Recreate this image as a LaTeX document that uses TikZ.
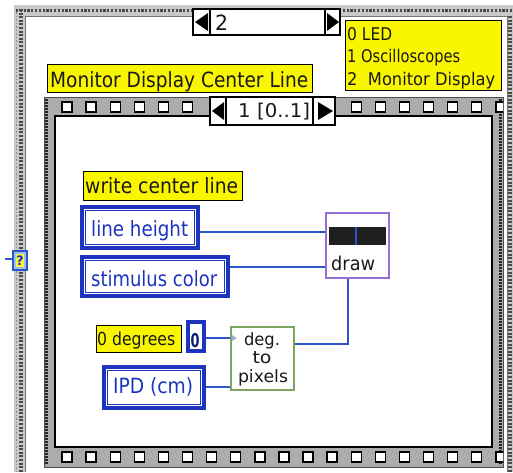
\documentclass[tikz,border=0pt]{standalone}
\usepackage{fontspec}
\setmainfont{DejaVu Sans}
\usepackage{graphicx}
\usetikzlibrary{fit,calc}

\definecolor{lvyellow}{RGB}{250,246,0}
\definecolor{ctlblue}{RGB}{28,52,190}
\definecolor{wireblue}{RGB}{45,85,205}
\definecolor{drawpurple}{RGB}{150,110,215}
\definecolor{subgreen}{RGB}{125,165,95}
\definecolor{framegray}{RGB}{172,172,172}
\definecolor{stipple}{RGB}{200,200,200}
\definecolor{txtdark}{RGB}{25,25,25}
\definecolor{helpblue}{RGB}{160,190,240}

% set a text horizontally squeezed/stretched to a given width (in pt)
\newsavebox\fitbox
\newlength\fitlen
\newcommand\fitto[2]{\sbox\fitbox{#2}\setlength\fitlen{\wd\fitbox}%
  \pgfmathsetmacro\fitr{#1/\fitlen}\scalebox{\fitr}[1]{\usebox\fitbox}}

\tikzset{
  yellowbox/.style={draw=black, line width=0.9, fill=lvyellow, inner sep=0},
  ctl/.style={draw=ctlblue, line width=4, fill=white, inner sep=0},
  ctlinner/.style={draw=ctlblue, line width=1.5},
  txt/.style={inner sep=0, text=txtdark, font=\fontsize{21}{24}\selectfont},
  ctltxt/.style={inner sep=0, text=ctlblue, font=\fontsize{21}{24}\selectfont},
  wire/.style={draw=wireblue, line width=1.8},
  selbox/.style={draw=black, line width=1.2, fill=white, inner sep=0},
  arrowtip/.style={fill=black},
  filmsq/.style={draw=black, line width=1.4, fill=white},
  subtxt/.style={inner sep=0, text=txtdark, font=\fontsize{17}{19}\selectfont, anchor=base},
}

\begin{document}
\begin{tikzpicture}[x=1pt, y=-1pt]
\useasboundingbox (0,0) rectangle (513,472);
\fill[white] (0,0) rectangle (513,472);

% ---------- outer case structure frame ----------
\fill[stipple] (14,5) rectangle (25,472);
\fill[stipple] (14,5) rectangle (513,16);
\fill[stipple] (507,16) rectangle (513,472);
\draw[black!70, line width=3.2, dash pattern=on 2pt off 1.6pt] (21,9) -- (21,472);
\draw[black!45, line width=1.4, dash pattern=on 1.5pt off 2pt] (16.5,12) -- (16.5,472);
\draw[black!70, line width=3.4, dash pattern=on 2.2pt off 1.6pt] (16,10.5) -- (513,10.5);
\draw[black!70, line width=3.2, dash pattern=on 2pt off 1.6pt] (510,16) -- (510,472);
\draw[black!55, line width=0.8] (25,472) -- (25,16) -- (507,16) -- (507,472);

% ---------- outer selector ----------
\node[selbox, fit={(193,9) (340,35)}] (sel) {};
\draw[black, line width=1.2] (210,9) -- (210,35) (325,9) -- (325,35);
\fill[arrowtip] (195,22) -- (208,13) -- (208,31) -- cycle;
\fill[arrowtip] (339,22) -- (327,13) -- (327,31) -- cycle;
\node[txt, anchor=base west] (selT) at (215,30) {\fitto{13}{2}};

% ---------- legend ----------
\node[yellowbox, fit={(345,20) (501,90)}] (legend) {};
\node[txt, font=\fontsize{17.5}{20}\selectfont, anchor=base west] (lg0) at (347,40) {\fitto{45}{0 LED}};
\node[txt, font=\fontsize{17.5}{20}\selectfont, anchor=base west] (lg1) at (347,62) {\fitto{113}{1 Oscilloscopes}};
\node[txt, font=\fontsize{17.5}{20}\selectfont, anchor=base west] (lg2) at (347,85) {\fitto{148}{2\ \ Monitor Display}};

% ---------- frame title ----------
\node[yellowbox, fit={(47,64) (312,92)}] (title) {};
\node[txt, anchor=base west] (titleT) at (50,87) {\fitto{258}{Monitor Display Center Line}};

% ---------- inner sequence (film strip) frame ----------
\fill[framegray] (44,97) rectangle (503,467);
\draw[black!70, line width=1] (44,97) rectangle (503,467);
\draw[black!85, line width=2.2, dash pattern=on 1.6pt off 1.4pt] (46.5,99) -- (46.5,465);
\draw[black!85, line width=2.2, dash pattern=on 1.6pt off 1.4pt] (500.5,99) -- (500.5,465);
\begin{scope}
  \clip (44,97) rectangle (503,467);
  \foreach \k in {0,...,18} {
    \pgfmathsetmacro\sx{62+24.1*\k}
    \pgfmathparse{(\sx<196 || \sx>340) ? 1 : 0}
    \ifnum\pgfmathresult=1
      \draw[filmsq] (\sx,102) rectangle ++(10,10);
    \fi
    \draw[filmsq] (\sx,452) rectangle ++(10,10);
  }
\end{scope}
\fill[white] (55,116) rectangle (492,447);
\draw[black, line width=1.5] (55,116) rectangle (492,447);

% ---------- inner selector ----------
\node[selbox, fit={(210,97) (335,125)}] (frame) {};
\draw[black, line width=1.2] (226,97) -- (226,125) (313,97) -- (313,125);
\fill[arrowtip] (212,111) -- (224,102) -- (224,120) -- cycle;
\fill[arrowtip] (333,111) -- (318,102) -- (318,120) -- cycle;
\node[txt, font=\fontsize{19}{22}\selectfont, anchor=base west] (frameT) at (238,117) {\fitto{72}{1 [0..1]}};

% ---------- selector terminal ----------
\draw[wireblue, line width=1.6] (5,259) -- (13,259);
\node[draw=wireblue, line width=1.2, fill=helpblue, inner sep=0, fit={(13,251) (27,270)}] (help) {};
\fill[lvyellow!80!white] (16,254) rectangle (24,267);
\node[inner sep=0, text=ctlblue, font=\bfseries\fontsize{13}{14}\selectfont] (helpT) at (20,261) {?};

% ---------- block diagram ----------
\node[yellowbox, fit={(83,171) (242,200)}] (wcl) {};
\node[txt, anchor=base west] (wclT) at (85,193) {\fitto{153}{write center line}};

\node[ctl, fit={(82,207) (198,248)}] (lh) {};
\draw[ctlinner] ([shift={(5.5,5.5)}]lh.north west) rectangle ([shift={(-5.5,-5.5)}]lh.south east);
\node[ctltxt, anchor=base west] (lhT) at (91,236) {\fitto{97}{line height}};

\node[ctl, fit={(82,257) (228,296)}] (stim) {};
\draw[ctlinner] ([shift={(5.5,5.5)}]stim.north west) rectangle ([shift={(-5.5,-5.5)}]stim.south east);
\node[ctltxt, anchor=base west] (stimT) at (91,286) {\fitto{126}{stimulus color}};

\node[ctl, fit={(104,367) (204,408)}] (ipd) {};
\draw[ctlinner] ([shift={(5.5,5.5)}]ipd.north west) rectangle ([shift={(-5.5,-5.5)}]ipd.south east);
\node[ctltxt, anchor=base west] (ipdT) at (113,393) {\fitto{80}{IPD (cm)}};

\node[yellowbox, fit={(96,325) (181,352)}] (degl) {};
\node[txt, font=\fontsize{18}{20}\selectfont, anchor=base west] (deglT) at (97,345) {\fitto{78}{0 degrees}};

\node[draw=ctlblue, line width=3.5, fill=white, inner sep=0, fit={(188,322) (204,351)}] (zero) {};
\node[inner sep=0, text=ctlblue!60!black, font=\bfseries\fontsize{19}{20}\selectfont, anchor=base] (zeroT) at (195,347) {\fitto{9}{0}};

% draw subVI
\node[draw=drawpurple, line width=1.4, fill=white, inner sep=0, fit={(326,213) (389,278)}] (drw) {};
\fill[black!88] (329,227) rectangle (386,245);
\draw[wireblue, line width=1.4] (356,227) -- (356,245);
\node[txt, font=\fontsize{19}{22}\selectfont, anchor=base west] (drwT) at (331,270) {\fitto{44}{draw}};

% deg. to pixels subVI
\node[draw=subgreen, line width=1.1, fill=white, inner sep=0, fit={(231,327) (294,390)}] (deg) {};
\node[subtxt] (degT1) at (262,345) {\fitto{36}{deg.}};
\node[subtxt] (degT2) at (262,363) {\fitto{19}{to}};
\node[subtxt] (degT3) at (263,382) {\fitto{50}{pixels}};

% ---------- wires ----------
\draw[wire] ([yshift=-4.5pt]lh.east) -- ([yshift=-4.5pt]lh.east -| drw.west);
\draw[wire] ([yshift=9.5pt]stim.east) -- ([yshift=9.5pt]stim.east -| drw.west);
\draw[wire] ([xshift=-9.5pt]drw.south) |- ([yshift=14.5pt]deg.east);
\draw[wire] ([yshift=-1.5pt]zero.east) -- ([yshift=-1.5pt]zero.east -| deg.west);
\draw[wire] ([yshift=0.5pt]ipd.east) -- ([yshift=0.5pt]ipd.east -| deg.west);
\fill[helpblue!80!gray] (232,335) -- (237,338) -- (232,341) -- cycle;
\end{tikzpicture}
\end{document}
